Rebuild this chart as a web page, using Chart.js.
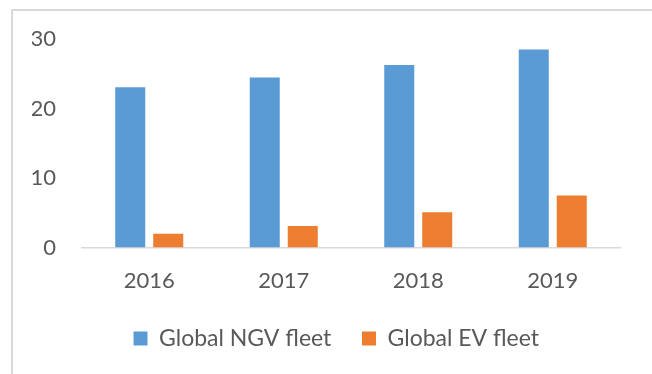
<!DOCTYPE html>
<html>
<head>
<meta charset="utf-8">
<script src="https://cdn.jsdelivr.net/npm/chart.js@4"></script>
<style>
  html, body { margin: 0; padding: 0; background: #fff; }
  #wrap { position: relative; width: 652px; height: 374px; overflow: hidden; }
  #frame { position: absolute; left: 11px; top: 9px; width: 650px; height: 400px; border: 2px solid #d9d9d9; box-sizing: border-box; }
  #myChart { position: absolute; left: 0; top: 0; }
</style>
</head>
<body>
<div id="wrap">
  <div id="frame"></div>
  <canvas id="myChart" width="652" height="374"></canvas>
</div>
<script>
// fleet sizes per year
var YEARS = ["2016", "2017", "2018", "2019"]
var NGV_FLEET = [23.1, 24.5, 26.3, 28.5]
var EV_FLEET = [2.0, 3.1, 5.1, 7.5]
var Y_TICKS = [0, 10, 20, 30]

var textGray = '#595959'
var fontFam = 'Lato, "Liberation Sans", sans-serif'
// extra room after each legend entry (legend padding also sets its height)
var LEGEND_GAPS = ['   ', '     ']

const data = {
  labels: YEARS,
  datasets: [{
    label: 'Global NGV fleet',
    data: NGV_FLEET,
    backgroundColor: '#5b9bd5',
    categoryPercentage: 0.565,
    barPercentage: 0.79
  }, {
    label: 'Global EV fleet',
    data: EV_FLEET,
    backgroundColor: '#ed7d31',
    categoryPercentage: 0.565,
    barPercentage: 0.79
  }]
};

const config = {
  type: 'bar',
  data: data,
  options: {
    responsive: false,
    animation: false,
    layout: {
      padding: { left: 32, right: 32, top: 37, bottom: 14 }
    },
    plugins: {
      tooltip: { enabled: false },
      legend: {
        position: 'bottom',
        fullSize: false,
        labels: {
          boxWidth: 14,
          boxHeight: 14,
          padding: 13,
          color: textGray,
          font: { family: fontFam, size: 23 },
          generateLabels: function(chart) {
            var items = Chart.defaults.plugins.legend.labels.generateLabels(chart)
            items.forEach(function(item, i) { item.text = item.text + LEGEND_GAPS[i] })
            return items
          }
        }
      }
    },
    scales: {
      x: {
        grid: { display: false, drawTicks: false },
        border: { display: true, color: '#d9d9d9', width: 1.5 },
        ticks: { color: textGray, padding: 20, font: { family: fontFam, size: 22 } }
      },
      y: {
        min: Y_TICKS[0],
        max: Y_TICKS[Y_TICKS.length - 1],
        afterBuildTicks: function(axis) {
          axis.ticks = Y_TICKS.map(v => ({ value: v }))
        },
        afterFit: function(axis) {
          axis.width = 50
        },
        grid: { display: false, drawTicks: false },
        border: { display: false },
        ticks: { color: textGray, padding: 26, font: { family: fontFam, size: 22 } }
      }
    }
  }
};

var myChart = new Chart(document.getElementById('myChart'), config)
</script>
</body>
</html>
